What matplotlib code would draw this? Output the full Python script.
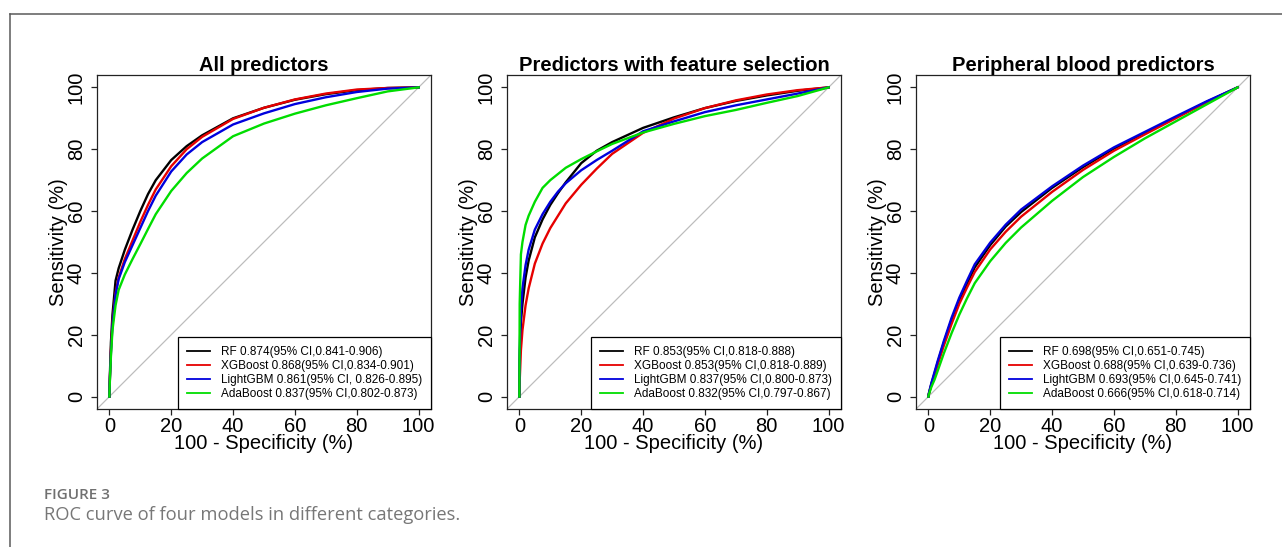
import matplotlib
matplotlib.use('agg')
import matplotlib.pyplot as plt
from matplotlib.lines import Line2D

plt.rcParams['font.family'] = ['Liberation Sans', 'DejaVu Sans']

# 100 - specificity (%) grid shared by every curve
fpr = [0, 0.1, 0.5, 1, 2, 3, 5, 7.5, 10, 12.5, 15, 20, 25, 30, 40, 50, 60, 70, 80, 90, 100]

# sensitivity (%)
all_rf = [0, 5, 17.5, 26.5, 37.5, 41.5, 47.5, 54, 60, 65.5, 70, 76.5, 81, 84.5, 90, 93.4, 96, 97.8, 99.1, 99.8, 100]
all_xgb = [0, 4, 15, 24, 33.5, 38.5, 44.5, 50.5, 56.5, 62, 67, 74.5, 80, 84, 89.8, 93.4, 96.1, 98, 99.3, 99.8, 100]
all_lgbm = [0, 4, 14, 23, 33, 38, 43.5, 49, 54.5, 60, 65, 72.8, 78.3, 82.3, 88, 91.6, 94.6, 96.8, 98.5, 99.6, 100]
all_ada = [0, 3.5, 13, 21.5, 29.5, 34.5, 39.5, 44.5, 49.3, 54.2, 59, 66.5, 72.3, 77, 84.2, 88.3, 91.5, 94.2, 96.5, 98.7, 100]

fs_rf = [0, 12, 24, 30, 38.5, 44, 51.5, 57.3, 62, 65.8, 69.3, 75.5, 79.5, 82.3, 86.9, 90.3, 93.3, 95.6, 97.4, 98.9, 100]
fs_xgb = [0, 5, 15, 21.5, 29.5, 35, 43, 49.5, 54.5, 58.5, 62.5, 68.5, 73.7, 78.5, 85.3, 89.9, 93.3, 95.8, 97.7, 99.1, 100]
fs_lgbm = [0, 15, 28, 35, 42.5, 47.5, 54, 59, 63, 66.3, 69, 73.2, 76.5, 79.5, 85.8, 89, 92, 94.2, 96.1, 98, 100]
fs_ada = [0, 30, 46, 50, 55.5, 58.5, 63, 67.5, 70, 72, 74, 76.8, 79.3, 81.7, 85.4, 88.2, 90.7, 92.7, 95, 97.2, 100]

pb_rf = [0, 0.7, 2.3, 4.2, 7.5, 11, 17.5, 24.8, 31, 36.5, 41.8, 49, 55, 59.7, 67.5, 74.2, 80.2, 85.3, 90.3, 95.3, 100]
pb_xgb = [0, 0.6, 2.1, 3.9, 7, 10.3, 16.5, 23.5, 30, 35.3, 40.3, 47.6, 53.3, 58.2, 66.2, 73.3, 79.5, 84.8, 90, 95.2, 100]
pb_lgbm = [0, 0.8, 2.5, 4.5, 8, 11.5, 18, 25.5, 32, 37.5, 42.8, 49.8, 55.6, 60.5, 68, 74.7, 80.6, 85.6, 90.6, 95.5, 100]
pb_ada = [0, 0.5, 1.7, 3.2, 5.5, 8.3, 14, 20.5, 26.5, 31.8, 36.7, 43.8, 49.7, 54.7, 63.3, 71, 77.5, 83.5, 89, 94.5, 100]

titles = ['All predictors', 'Predictors with feature selection', 'Peripheral blood predictors']

all_labels = ['RF 0.874(95% CI,0.841-0.906)', 'XGBoost 0.868(95% CI,0.834-0.901)',
              'LightGBM 0.861(95% CI, 0.826-0.895)', 'AdaBoost 0.837(95% CI,0.802-0.873)']
fs_labels = ['RF 0.853(95% CI,0.818-0.888)', 'XGBoost 0.853(95% CI,0.818-0.889)',
             'LightGBM 0.837(95% CI,0.800-0.873)', 'AdaBoost 0.832(95% CI,0.797-0.867)']
pb_labels = ['RF 0.698(95% CI,0.651-0.745)', 'XGBoost 0.688(95% CI,0.639-0.736)',
             'LightGBM 0.693(95% CI,0.645-0.741)', 'AdaBoost 0.666(95% CI,0.618-0.714)']

colours = ['black', '#e60000', '#0000dd', '#00dd00']

panels = [
    (titles[0], [all_rf, all_xgb, all_lgbm, all_ada], all_labels),
    (titles[1], [fs_rf, fs_xgb, fs_lgbm, fs_ada], fs_labels),
    (titles[2], [pb_rf, pb_xgb, pb_lgbm, pb_ada], pb_labels),
]

W, H = 1282, 547
fig = plt.figure(figsize=(W / 100, H / 100), dpi=100)
fig.patch.set_facecolor('white')

lefts = [97, 507, 916]
for left, (title, curves, labels) in zip(lefts, panels):
    ax = fig.add_axes([left / W, (H - 409) / H, 334 / W, 334 / H])
    ax.axline((0, 0), slope=1, color='#bdbdbd', lw=0.9, zorder=1)
    for tpr, colour in zip(curves, colours):
        ax.plot(fpr, tpr, color=colour, lw=1.7, zorder=2)
    ax.set_xlim(-4, 104)
    ax.set_ylim(-4, 104)
    ticks = [0, 20, 40, 60, 80, 100]
    ax.set_xticks(ticks)
    ax.set_yticks(ticks)
    ax.tick_params(labelsize=14.5, length=4.5, width=0.9, color='#222222', pad=1)
    ax.tick_params(axis='y', pad=3.5)
    for lab in ax.get_yticklabels():
        lab.set_rotation(90)
        lab.set_va('center')
    for sp in ax.spines.values():
        sp.set_linewidth(0.9)
        sp.set_color('#222222')
    ax.text(0.5, 1.012, title, transform=ax.transAxes, ha='center', va='baseline',
            fontsize=14.5, fontweight='bold')
    ax.text(-0.114, 0.5, 'Sensitivity (%)', transform=ax.transAxes, rotation=90,
            ha='center', va='center', fontsize=14.5)
    ax.text(0.5, -0.102, '100 - Specificity (%)', transform=ax.transAxes,
            ha='center', va='center', fontsize=14.5)
    handles = [Line2D([], [], color=c, lw=1.3) for c in colours]
    leg = ax.legend(handles, labels, loc='lower right', bbox_to_anchor=(1, 0),
                    borderaxespad=0, fontsize=8.5, handlelength=1.95, handletextpad=0.9,
                    labelspacing=0.17, borderpad=0.76, fancybox=False, framealpha=1,
                    edgecolor='black')
    leg.get_frame().set_linewidth(0.9)

# outer frame of the figure panel
fig.add_artist(Line2D([10 / W, 1], [1 - 14 / H, 1 - 14 / H], transform=fig.transFigure,
                      color='#5a5a5a', lw=1.1))
fig.add_artist(Line2D([10 / W, 10 / W], [0, 1 - 14 / H], transform=fig.transFigure,
                      color='#5a5a5a', lw=1.1))

fig.text(44 / W, 1 - 499 / H, 'FIGURE 3', family=['Open Sans', 'DejaVu Sans'],
         fontsize=11, fontweight='semibold', color='#707070', va='baseline')
fig.text(44 / W, 1 - 520 / H, 'ROC curve of four models in different categories.',
         family=['Open Sans', 'DejaVu Sans'], fontsize=13.2, color='#777777', va='baseline')

fig.savefig('out.png', dpi=100)
